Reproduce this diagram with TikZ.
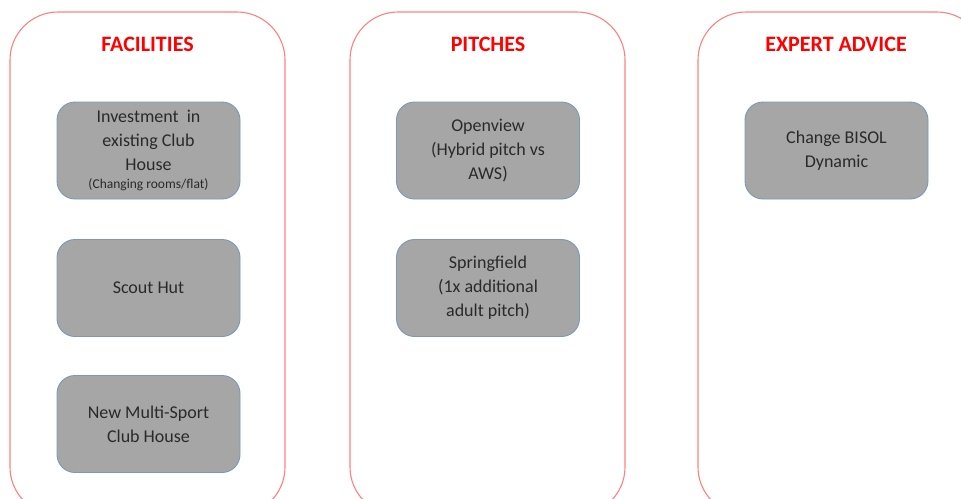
\documentclass[tikz,border=0pt]{standalone}
\usepackage{fontspec}
\setmainfont{Carlito}
\definecolor{frame}{HTML}{FF8080}
\definecolor{ttl}{HTML}{FF0000}
\definecolor{boxfill}{HTML}{A6A6A6}
\definecolor{boxline}{HTML}{7C98B3}
\definecolor{txt}{HTML}{2A2A2A}
\tikzset{
  column/.style={draw=frame, line width=1.1pt, rounded corners=48pt},
  title/.style={text=ttl, font=\bfseries\fontsize{22}{26}\selectfont, inner sep=0pt},
  item/.style={draw=boxline, line width=0.9pt, fill=boxfill, rounded corners=18pt,
    minimum width=183pt, minimum height=97pt, inner sep=0pt, align=center,
    text=txt, font=\fontsize{18}{24}\selectfont},
}
\begin{document}
\begin{tikzpicture}[x=1pt,y=-1pt]
\useasboundingbox (0,0) rectangle (961,498);
\begin{scope}
\clip (0,0) rectangle (961,498);
\draw[column] (10,12) rectangle (285,515);
\draw[column] (350,12) rectangle (625,515);
\draw[column] (698,12) rectangle (985,515);
\end{scope}
\node[title] (t1) at (147.5,44) {FACILITIES};
\node[title] (t2) at (488,44) {PITCHES};
\node[title] (t3) at (836,44) {EXPERT ADVICE};
\node[item] (b1) at (148.5,150.5) {Investment\ \ in\\existing Club\\House\\[-6pt]{\fontsize{13.5}{15}\selectfont (Changing rooms/flat)}};
\node[item] (b2) at (148.5,288) {Scout Hut};
\node[item] (b3) at (148.5,424) {New Multi-Sport\\Club House};
\node[item] (p1) at (488,150.5) {Openview\\(Hybrid pitch vs\\AWS)};
\node[item] (p2) at (488,288) {Springfield\\(1x additional\\adult pitch)};
\node[item] (e1) at (836.5,150.5) {Change BISOL\\Dynamic};
\end{tikzpicture}
\end{document}
